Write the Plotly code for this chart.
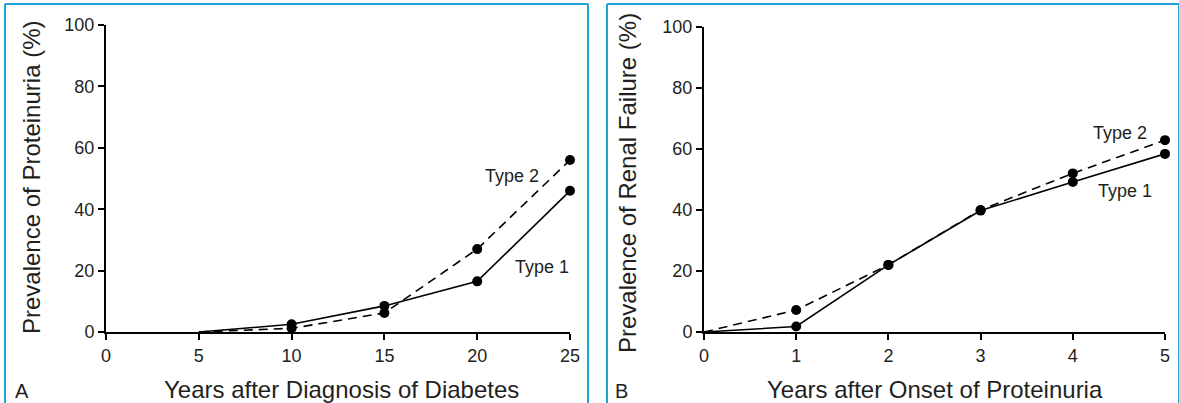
import plotly.graph_objects as go

W, H = 1179, 403

# Panel A data
years_dx = [5, 10, 15, 20, 25]
prot_type1 = [0, 2.5, 8.5, 16.5, 46]
prot_type2 = [0, 1.2, 6.2, 27, 56]

# Panel B data
years_onset = [0, 1, 2, 3, 4, 5]
renal_type1 = [0, 1.8, 22, 39.8, 49.2, 58.4]
renal_type2 = [0, 7.2, 22, 40, 52, 62.9]

xticks_a = [0, 5, 10, 15, 20, 25]
xticks_b = [0, 1, 2, 3, 4, 5]
yticks = [0, 20, 40, 60, 80, 100]

FONT = "Liberation Sans, Arial, sans-serif"
TXT = "#231f20"
BLUE = "#1fa2d8"

def px(x):
    return x / W

def py(y):
    return 1 - y / H

fig = go.Figure()

def add_series(x, y, dash, xa, ya, name):
    fig.add_trace(go.Scatter(
        x=x, y=y, mode="lines", line=dict(color="black", width=1.6, dash=dash),
        xaxis=xa, yaxis=ya, name=name, showlegend=False, cliponaxis=False))
    fig.add_trace(go.Scatter(
        x=x[1:], y=y[1:], mode="markers", marker=dict(color="black", size=10),
        xaxis=xa, yaxis=ya, name=name, showlegend=False, cliponaxis=False))

add_series(years_dx, prot_type1, "solid", "x", "y", "Type 1")
add_series(years_dx, prot_type2, "9px,6px", "x", "y", "Type 2")
add_series(years_onset, renal_type1, "solid", "x2", "y2", "Type 1")
add_series(years_onset, renal_type2, "9px,6px", "x2", "y2", "Type 2")

axis_common = dict(showline=True, linecolor="black", linewidth=2, ticks="outside",
                   ticklen=6, tickwidth=2, tickcolor="black", showgrid=False, zeroline=False,
                   automargin=False,
                   tickfont=dict(family=FONT, size=18, color=TXT), fixedrange=True)

fig.update_layout(
    width=W, height=H, autosize=False,
    margin=dict(l=0, r=0, t=0, b=0, pad=0),
    paper_bgcolor="white", plot_bgcolor="white",
    xaxis=dict(domain=[px(106), px(570)], range=[0, 25], tickvals=xticks_a,
               anchor="y", **axis_common),
    yaxis=dict(domain=[py(332), py(25)], range=[0, 100], tickvals=yticks,
               anchor="x", **axis_common),
    xaxis2=dict(domain=[px(704), px(1165)], range=[0, 5], tickvals=xticks_b,
                anchor="y2", **axis_common),
    yaxis2=dict(domain=[py(332), py(27)], range=[0, 100], tickvals=yticks,
                anchor="x2", **axis_common),
)

ann = []
def label(text, x, y, xref, yref, size, xanchor="center", yanchor="middle", angle=0):
    ann.append(dict(text=text, x=x, y=y, xref=xref, yref=yref, showarrow=False,
                    xanchor=xanchor, yanchor=yanchor, textangle=angle,
                    font=dict(family=FONT, size=size, color=TXT)))

# curve labels
label("Type 2", 21.9, 50.8, "x", "y", 18)
label("Type 1", 23.5, 21.2, "x", "y", 18)
label("Type 2", 4.51, 65.2, "x2", "y2", 18)
label("Type 1", 4.57, 46.2, "x2", "y2", 18)

# axis titles
label("Years after Diagnosis of Diabetes", px(341), py(389), "paper", "paper", 24)
label("Years after Onset of Proteinuria", px(935), py(389), "paper", "paper", 24)
label("Prevalence of Proteinuria (%)", px(32), py(178), "paper", "paper", 24, angle=-90)
label("Prevalence of Renal Failure (%)", px(628), py(183), "paper", "paper", 24, angle=-90)

# panel letters
label("A", px(22), py(391), "paper", "paper", 20)
label("B", px(621), py(391), "paper", "paper", 20)

fig.update_layout(annotations=ann)

# panel borders (open at bottom)
shapes = []
for (x0, x1) in [(5, 588), (607, 1179)]:
    for (a, b, c, d) in [(x0, 4, x0, 403), (x0, 4, x1, 4), (x1, 4, x1, 403)]:
        shapes.append(dict(type="line", xref="paper", yref="paper",
                           x0=px(a), y0=py(b), x1=px(c), y1=py(d),
                           line=dict(color=BLUE, width=2)))
fig.update_layout(shapes=shapes)

fig.write_html("out.html", config={"displayModeBar": False},
               post_script="document.body.style.margin='0';document.body.style.overflow='hidden';")
